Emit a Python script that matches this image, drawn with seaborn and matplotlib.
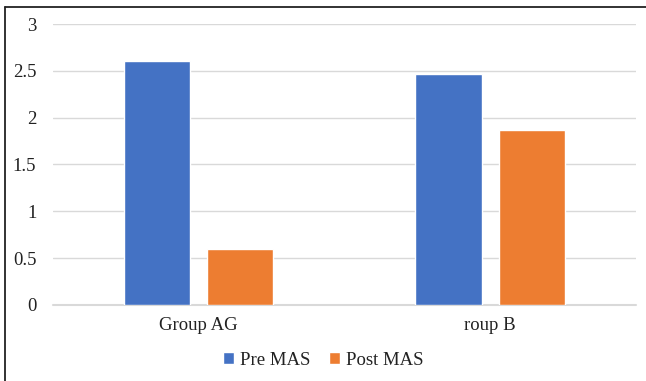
import pandas as pd
import matplotlib.pyplot as plt
import seaborn as sns
from matplotlib.lines import Line2D

groups = ["Group AG", "roup B"]
series = ["Pre MAS", "Post MAS"]
pre_mas = [2.6, 2.47]
post_mas = [0.6, 1.87]
y_ticks = [0, 0.5, 1, 1.5, 2, 2.5, 3]
y_tick_labels = ["0", "0.5", "1", "1.5", "2", "2.5", "3"]

df = pd.DataFrame({
    "group": groups * 2,
    "series": [series[0]] * 2 + [series[1]] * 2,
    "value": pre_mas + post_mas,
})

sns.set_style("white")
plt.rcParams["font.family"] = ["Liberation Serif", "DejaVu Serif"]

fig = plt.figure(figsize=(6.46, 3.81), dpi=100)
ax = fig.add_axes([0.082, 0.1995, 0.9025, 0.7375])

sns.barplot(
    data=df, x="group", y="value", hue="series",
    palette=["#4472C4", "#ED7D31"], width=0.57, gap=0.2,
    saturation=1, ax=ax, legend=True,
)

ax.set_xlim(-0.5, 1.5)
ax.set_ylim(0, 3)
ax.set_yticks(y_ticks)
ax.set_yticklabels(y_tick_labels)
ax.yaxis.grid(True, color="#D9D9D9", linewidth=1.0)
ax.axhline(0, color="#D9D9D9", linewidth=1.5, clip_on=False, zorder=0.5)
ax.set_axisbelow(True)
for s in ax.spines.values():
    s.set_visible(False)
ax.set_xlabel("")
ax.set_ylabel("")
ax.tick_params(axis="y", labelsize=13.5, pad=12, length=0, colors="#222222")
ax.tick_params(axis="x", labelsize=13.5, pad=9, length=0, colors="#222222")

# legend at the bottom, square markers
handles, labels = ax.get_legend_handles_labels()
ax.legend_.remove()
fig.legend(handles, labels, loc="center", bbox_to_anchor=(0.5, 0.055),
           ncol=2, frameon=False, fontsize=13.5, handlelength=0.6,
           handleheight=0.6, handletextpad=0.3, columnspacing=1.0,
           labelcolor="#222222")

# chart border (left and top visible)
fig.add_artist(Line2D([0.008, 0.008], [0.0, 0.982], transform=fig.transFigure,
                      color="#222222", linewidth=1.3))
fig.add_artist(Line2D([0.008, 1.0], [0.982, 0.982], transform=fig.transFigure,
                      color="#222222", linewidth=1.3))

fig.savefig("out.png", dpi=100)
